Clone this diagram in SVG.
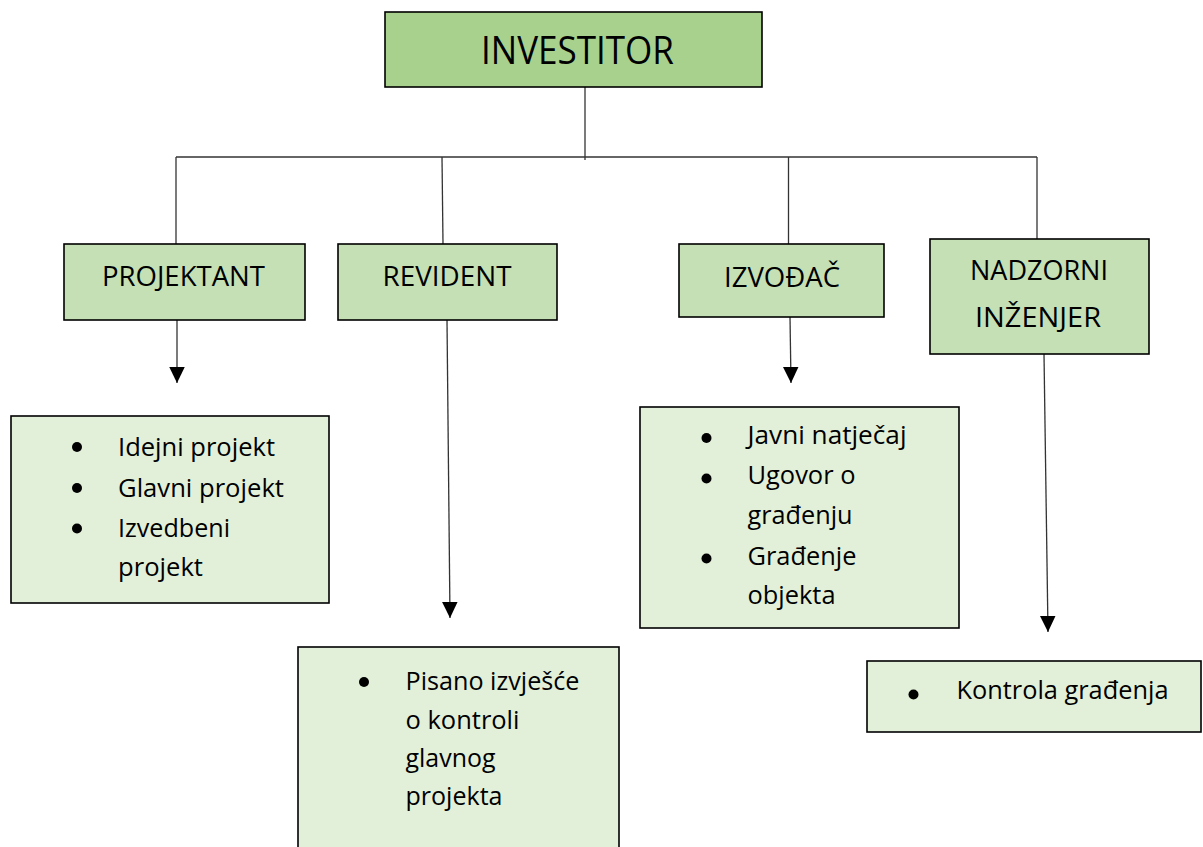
<svg xmlns="http://www.w3.org/2000/svg" width="1203" height="847" viewBox="0 0 1203 847">
<style>
  .box { stroke: #000; stroke-width: 1.6; }
  .top { fill: #a9d18e; }
  .mid { fill: #c5e0b4; }
  .lst { fill: #e2f0d9; }
  text { font-family: "Open Sans", "Liberation Sans", sans-serif; fill: #000; }
  .t-top { font-size: 39px; text-anchor: middle; }
  .t-mid { font-size: 28px; text-anchor: middle; }
  .t-lst { font-size: 26px; }
  .conn { stroke: #333; stroke-width: 1.3; fill: none; }
  .bul { fill: #000; }
</style>
<defs>
  <marker id="arr" markerUnits="userSpaceOnUse" markerWidth="17" markerHeight="16" refX="16" refY="7.75" orient="auto">
    <path d="M0,0 L16,7.75 L0,15.5 z" fill="#000"/>
  </marker>
</defs>
<rect width="1203" height="847" fill="#fff"/>

<g id="connectors">
  <line class="conn" x1="585" y1="87" x2="585" y2="160"/>
  <line class="conn" x1="176" y1="157" x2="1037" y2="157"/>
  <line class="conn" x1="176" y1="157" x2="176" y2="244"/>
  <line class="conn" x1="442" y1="157" x2="443" y2="244"/>
  <line class="conn" x1="788.5" y1="157" x2="788.5" y2="244"/>
  <line class="conn" x1="1037" y1="157" x2="1037" y2="239"/>
  <line class="conn" x1="177" y1="320" x2="177" y2="383" marker-end="url(#arr)"/>
  <line class="conn" x1="447" y1="320" x2="450" y2="618" marker-end="url(#arr)"/>
  <line class="conn" x1="790" y1="317" x2="791" y2="383" marker-end="url(#arr)"/>
  <line class="conn" x1="1044" y1="354" x2="1048" y2="632" marker-end="url(#arr)"/>
</g>

<g id="investitor">
  <rect class="box top" x="385" y="12" width="377" height="75"/>
  <text class="t-top" x="577.5" y="64" textLength="193" lengthAdjust="spacingAndGlyphs">INVESTITOR</text>
</g>

<g id="projektant">
  <rect class="box mid" x="64" y="244" width="241" height="76"/>
  <text class="t-mid" x="183.5" y="286" textLength="163" lengthAdjust="spacingAndGlyphs">PROJEKTANT</text>
</g>

<g id="revident">
  <rect class="box mid" x="338" y="244" width="219" height="76"/>
  <text class="t-mid" x="447" y="286" textLength="129" lengthAdjust="spacingAndGlyphs">REVIDENT</text>
</g>

<g id="izvodac">
  <rect class="box mid" x="679" y="244" width="205" height="73"/>
  <text class="t-mid" x="782" y="287" textLength="116" lengthAdjust="spacingAndGlyphs">IZVOĐAČ</text>
</g>

<g id="nadzorni">
  <rect class="box mid" x="930" y="239" width="219" height="115"/>
  <text class="t-mid" x="1039" y="280" textLength="138" lengthAdjust="spacingAndGlyphs">NADZORNI</text>
  <text class="t-mid" x="1038" y="327" textLength="126" lengthAdjust="spacingAndGlyphs">INŽENJER</text>
</g>

<g id="projektant-list">
  <rect class="box lst" x="11" y="416" width="318" height="187"/>
  <circle class="bul" cx="77" cy="447" r="5"/>
  <circle class="bul" cx="77" cy="488" r="5"/>
  <circle class="bul" cx="77" cy="528.5" r="5"/>
  <text class="t-lst" x="118" y="455.5" textLength="157" lengthAdjust="spacingAndGlyphs">Idejni projekt</text>
  <text class="t-lst" x="118" y="496.5" textLength="166" lengthAdjust="spacingAndGlyphs">Glavni projekt</text>
  <text class="t-lst" x="118" y="537" textLength="112" lengthAdjust="spacingAndGlyphs">Izvedbeni</text>
  <text class="t-lst" x="118" y="576" textLength="85" lengthAdjust="spacingAndGlyphs">projekt</text>
</g>

<g id="revident-list">
  <rect class="box lst" x="298" y="647" width="321" height="210"/>
  <circle class="bul" cx="364" cy="682" r="5"/>
  <text class="t-lst" x="405.5" y="690" textLength="174" lengthAdjust="spacingAndGlyphs">Pisano izvješće</text>
  <text class="t-lst" x="405.5" y="728.5" textLength="114" lengthAdjust="spacingAndGlyphs">o kontroli</text>
  <text class="t-lst" x="405.5" y="767" textLength="90" lengthAdjust="spacingAndGlyphs">glavnog</text>
  <text class="t-lst" x="405.5" y="804.5" textLength="97" lengthAdjust="spacingAndGlyphs">projekta</text>
</g>

<g id="izvodac-list">
  <rect class="box lst" x="640" y="407" width="319" height="221"/>
  <circle class="bul" cx="706.5" cy="438" r="5"/>
  <circle class="bul" cx="706.5" cy="478.5" r="5"/>
  <circle class="bul" cx="706.5" cy="558.5" r="5"/>
  <text class="t-lst" x="747.5" y="443.5" textLength="159" lengthAdjust="spacingAndGlyphs">Javni natječaj</text>
  <text class="t-lst" x="747.5" y="484" textLength="108" lengthAdjust="spacingAndGlyphs">Ugovor o</text>
  <text class="t-lst" x="747.5" y="524" textLength="105" lengthAdjust="spacingAndGlyphs">građenju</text>
  <text class="t-lst" x="747.5" y="564.5" textLength="109" lengthAdjust="spacingAndGlyphs">Građenje</text>
  <text class="t-lst" x="747.5" y="604" textLength="88" lengthAdjust="spacingAndGlyphs">objekta</text>
</g>

<g id="nadzorni-list">
  <rect class="box lst" x="867" y="661" width="334" height="71"/>
  <circle class="bul" cx="913.5" cy="694.5" r="5"/>
  <text class="t-lst" x="956.5" y="698.5" textLength="212" lengthAdjust="spacingAndGlyphs">Kontrola građenja</text>
</g>
</svg>
